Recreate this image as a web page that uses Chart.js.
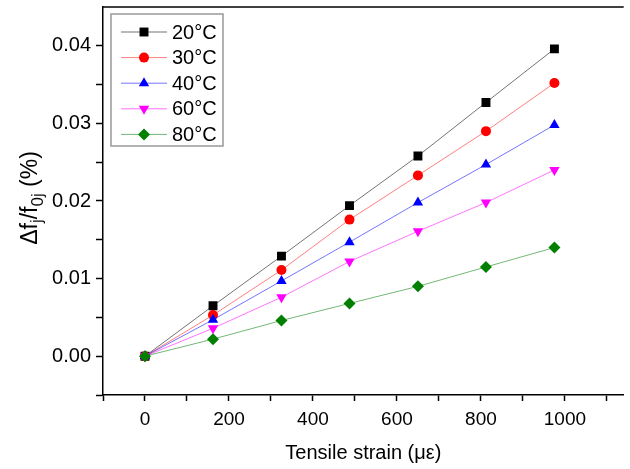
<!DOCTYPE html>
<html lang="en">
<head>
    <meta charset="utf-8"/>
    <title>Tensile strain vs frequency shift</title>
    <script src="https://cdn.jsdelivr.net/npm/chart.js"></script>
    <style>
        html, body { margin: 0; padding: 0; background: #fff; }
        #wrap { width: 630px; height: 469px; position: relative; }
    </style>
</head>
<body>
<div id="wrap"><canvas id="chart" width="630" height="469"></canvas></div>
<script>
    // data
    const strain = [0, 162, 325, 487, 650, 812, 975];
    const temps = ['20°C', '30°C', '40°C', '60°C', '80°C'];
    const t20 = [0, 0.0065, 0.0129, 0.0194, 0.0258, 0.0327, 0.0396];
    const t30 = [0, 0.0053, 0.0111, 0.0176, 0.0233, 0.0290, 0.0352];
    const t40 = [0, 0.0047, 0.0097, 0.0147, 0.0198, 0.0247, 0.0298];
    const t60 = [0, 0.0036, 0.0076, 0.0122, 0.0161, 0.0198, 0.0240];
    const t80 = [0, 0.0022, 0.0046, 0.0068, 0.0090, 0.0115, 0.0140];
    const xTicks = [-100, 0, 100, 200, 300, 400, 500, 600, 700, 800, 900, 1000, 1100];
    const yTicks = [-0.005, 0, 0.005, 0.01, 0.015, 0.02, 0.025, 0.03, 0.035, 0.04];

    const FONT = 'Liberation Sans, Arial, sans-serif';

    const styles = [
        { color: '#000000', line: 'rgba(0,0,0,0.55)', shape: 'rect', r: 6.3, rot: 0 },
        { color: '#ff0000', line: 'rgba(255,0,0,0.5)', shape: 'circle', r: 5, rot: 0 },
        { color: '#0000ff', line: 'rgba(0,0,255,0.55)', shape: 'triangle', r: 6, rot: 0 },
        { color: '#ff00ff', line: 'rgba(255,0,255,0.55)', shape: 'triangle', r: 6, rot: 180 },
        { color: '#007f00', line: 'rgba(0,127,0,0.55)', shape: 'rectRot', r: 6, rot: 0 }
    ];
    const series = [t20, t30, t40, t60, t80];

    const datasets = series.map((vals, i) => ({
        label: temps[i],
        data: strain.map((x, k) => ({ x: x, y: vals[k] })),
        borderColor: styles[i].line,
        backgroundColor: styles[i].color,
        pointBorderColor: styles[i].color,
        pointBackgroundColor: styles[i].color,
        pointStyle: styles[i].shape,
        pointRotation: styles[i].rot,
        pointRadius: styles[i].r,
        pointBorderWidth: 0,
        borderWidth: 1,
        tension: 0
    })).reverse();

    // legend box inside the plot, y title with subscripts, top frame line
    const extras = {
        id: 'extras',
        afterDraw(chart) {
            const ctx = chart.ctx;
            const a = chart.chartArea;
            ctx.save();
            ctx.strokeStyle = '#000';
            ctx.lineWidth = 1.5;
            ctx.beginPath();
            ctx.moveTo(a.left, a.top);
            ctx.lineTo(a.right, a.top);
            ctx.stroke();

            // legend
            ctx.fillStyle = '#fff';
            ctx.fillRect(111, 14, 112, 132);
            ctx.strokeStyle = '#999';
            ctx.lineWidth = 1.5;
            ctx.strokeRect(111, 14, 112, 132);
            ctx.font = '20px ' + FONT;
            ctx.textBaseline = 'middle';
            temps.forEach((t, i) => {
                const y = 32 + i * 25.6;
                const s = styles[i];
                ctx.strokeStyle = s.line;
                ctx.lineWidth = 1;
                ctx.beginPath();
                ctx.moveTo(121, y);
                ctx.lineTo(167, y);
                ctx.stroke();
                ctx.fillStyle = s.color;
                Chart.helpers.drawPoint(ctx, {
                    pointStyle: s.shape, radius: s.r, rotation: s.rot, borderWidth: 0
                }, 144, y);
                ctx.fillStyle = '#000';
                ctx.fillText(t, 172, y + 1);
            });

            // y axis title: Δf_j/f_0j (%)
            ctx.translate(37, 198);
            ctx.rotate(-Math.PI / 2);
            const big = '23px ' + FONT;
            const small = '17px ' + FONT;
            const parts = [['Δf', big, 0], ['j', small, 5], ['/f', big, 0], ['0j', small, 6], [' (%)', big, 0]];
            let w = 0;
            parts.forEach(p => { ctx.font = p[1]; w += ctx.measureText(p[0]).width; });
            let x = -w / 2;
            ctx.fillStyle = '#000';
            ctx.textBaseline = 'alphabetic';
            parts.forEach(p => {
                ctx.font = p[1];
                ctx.fillText(p[0], x, p[2]);
                x += ctx.measureText(p[0]).width;
            });
            ctx.restore();
        }
    };

    new Chart(document.getElementById('chart'), {
        type: 'line',
        data: { datasets: datasets },
        options: {
            responsive: false,
            animation: false,
            layout: { padding: { top: 0, right: 1, left: 0, bottom: 0 } },
            plugins: {
                legend: { display: false },
                tooltip: { enabled: false }
            },
            scales: {
                x: {
                    type: 'linear',
                    min: -100,
                    max: 1140,
                    afterBuildTicks: s => { s.ticks = xTicks.map(v => ({ value: v })); },
                    afterFit: s => {
                        s.height = 74;
                        s.paddingLeft = 0;
                        s.paddingRight = 0;
                    },
                    border: { display: true, color: '#000', width: 1.5 },
                    grid: { drawOnChartArea: false, drawTicks: true, tickLength: 6, color: '#000', tickWidth: 1.5 },
                    ticks: {
                        color: '#000',
                        font: { family: FONT, size: 19 },
                        padding: 7,
                        maxRotation: 0,
                        autoSkip: false,
                        callback: v => (v >= 0 && v <= 1000 && v % 200 === 0) ? String(v) : ''
                    },
                    title: {
                        display: true,
                        text: 'Tensile strain (με)',
                        color: '#000',
                        font: { family: FONT, size: 20 },
                        padding: { top: 14 }
                    }
                },
                y: {
                    type: 'linear',
                    min: -0.005,
                    max: 0.045,
                    afterBuildTicks: s => { s.ticks = yTicks.map(v => ({ value: v })); },
                    afterFit: s => {
                        s.width = 103;
                        s.paddingTop = 7;
                        s.paddingBottom = 0;
                    },
                    border: { display: true, color: '#000', width: 1.5 },
                    grid: { drawOnChartArea: false, drawTicks: true, tickLength: 7, color: '#000', tickWidth: 1.5 },
                    ticks: {
                        color: '#000',
                        font: { family: FONT, size: 20 },
                        padding: 5,
                        autoSkip: false,
                        callback: v => {
                            const r = Math.round(v * 1000);
                            return (r >= 0 && r % 10 === 0) ? (r / 1000).toFixed(2) : '';
                        }
                    }
                }
            }
        },
        plugins: [extras]
    });
</script>
</body>
</html>
